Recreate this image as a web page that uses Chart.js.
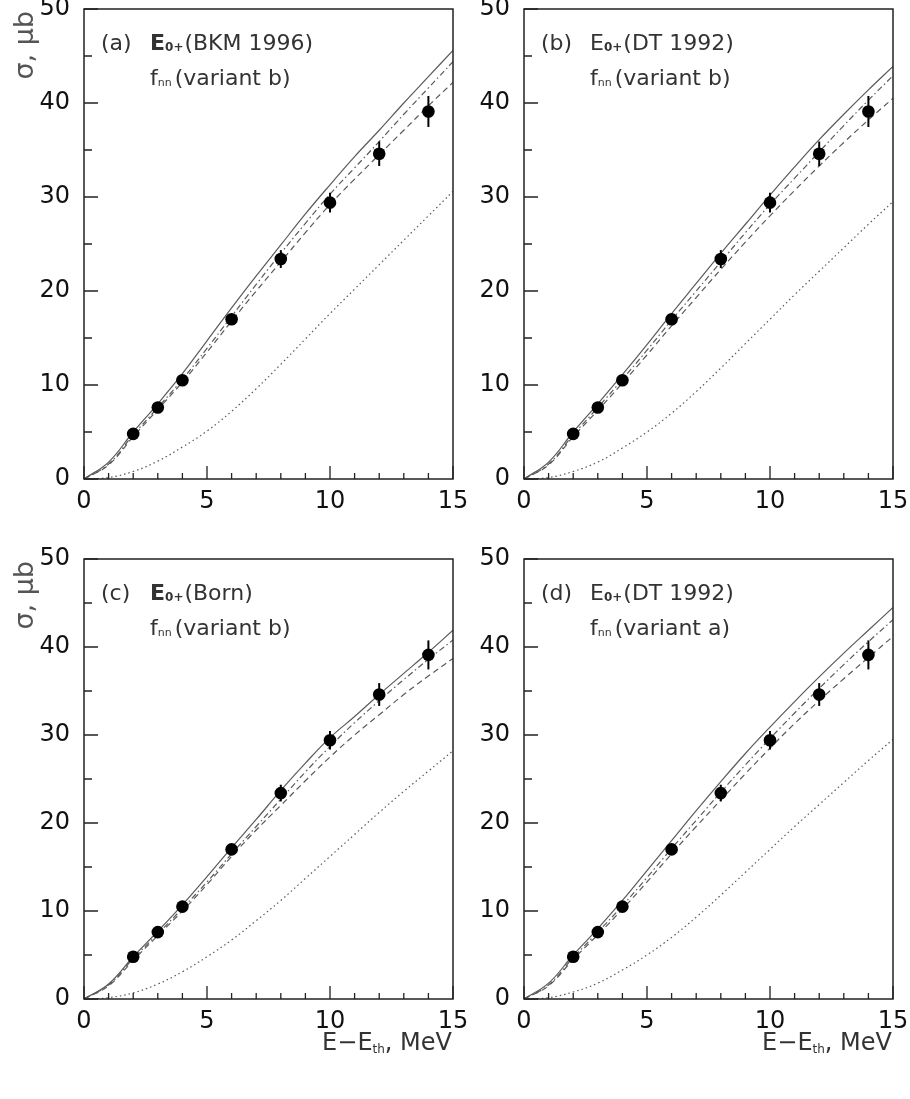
<!DOCTYPE html>
<html>
<head>
<meta charset="utf-8">
<script src="https://cdn.jsdelivr.net/npm/chart.js@4"></script>
<style>
  body { margin: 0; background: #fff; }
  #page { position: relative; width: 910px; height: 1099px; overflow: hidden; background: #fff; }
  #page canvas { position: absolute; }
</style>
</head>
<body>
<div id="page">
  <canvas id="panelA"></canvas>
  <canvas id="panelB"></canvas>
  <canvas id="panelC"></canvas>
  <canvas id="panelD"></canvas>
</div>
<script>
// energy grid of the calculated curves, MeV
const energy = [0, 1, 2, 3, 4, 5, 6, 7, 8, 9, 10, 11, 12, 13, 14, 15];

// measured cross sections, μb
const pointE = [2, 3, 4, 6, 8, 10, 12, 14];
const sigma = [4.8, 7.6, 10.5, 17.0, 23.4, 29.4, 34.6, 39.1];
const sigmaErr = [0.3, 0.3, 0.4, 0.6, 0.95, 1.05, 1.3, 1.65];

// (a) E0+ (BKM 1996), fnn variant b
const solidA   = [0, 1.8, 5.0, 8.0, 11.2, 14.7, 18.2, 21.6, 24.9, 28.2, 31.3, 34.3, 37.1, 40.0, 42.8, 45.6];
const dashDotA = [0, 1.6, 4.7, 7.6, 10.6, 13.9, 17.3, 20.7, 24.0, 27.2, 30.3, 33.1, 35.9, 38.8, 41.6, 44.4];
const dashA    = [0, 1.5, 4.5, 7.4, 10.3, 13.5, 16.8, 20.0, 23.1, 26.2, 29.2, 31.9, 34.5, 37.1, 39.7, 42.2];
const dotA     = [0, 0.15, 0.8, 1.9, 3.4, 5.1, 7.2, 9.6, 12.2, 14.9, 17.6, 20.2, 22.8, 25.4, 28.0, 30.6];

// (b) E0+ (DT 1992), fnn variant b
const solidB   = [0, 1.8, 5.0, 8.0, 11.1, 14.3, 17.6, 20.8, 24.0, 27.1, 30.2, 33.2, 36.1, 38.8, 41.4, 43.9];
const dashDotB = [0, 1.6, 4.7, 7.6, 10.6, 13.7, 16.9, 20.0, 23.1, 26.2, 29.2, 32.0, 34.8, 37.6, 40.3, 42.9];
const dashB    = [0, 1.5, 4.5, 7.3, 10.2, 13.2, 16.3, 19.3, 22.3, 25.2, 28.0, 30.7, 33.3, 35.8, 38.2, 40.5];
const dotB     = [0, 0.15, 0.8, 1.8, 3.3, 5.0, 7.0, 9.3, 11.8, 14.4, 17.0, 19.6, 22.1, 24.6, 27.1, 29.5];

// (c) E0+ (Born), fnn variant b
const solidC   = [0, 1.7, 4.8, 7.7, 10.7, 13.9, 17.2, 20.4, 23.7, 26.8, 29.7, 32.1, 34.6, 37.0, 39.4, 41.9];
const dashDotC = [0, 1.6, 4.6, 7.4, 10.3, 13.3, 16.5, 19.6, 22.7, 25.8, 28.7, 31.4, 33.9, 36.3, 38.6, 40.8];
const dashC    = [0, 1.5, 4.4, 7.2, 10.0, 13.0, 16.2, 19.2, 22.0, 24.8, 27.5, 30.0, 32.3, 34.6, 36.7, 38.7];
const dotC     = [0, 0.15, 0.7, 1.7, 3.1, 4.8, 6.7, 8.9, 11.2, 13.7, 16.2, 18.7, 21.2, 23.6, 25.9, 28.2];

// (d) E0+ (DT 1992), fnn variant a
const solidD   = [0, 1.8, 5.0, 8.0, 11.2, 14.6, 18.0, 21.4, 24.7, 27.9, 30.9, 33.8, 36.6, 39.3, 41.9, 44.5];
const dashDotD = [0, 1.6, 4.7, 7.6, 10.6, 13.8, 17.1, 20.3, 23.5, 26.6, 29.6, 32.5, 35.3, 38.0, 40.6, 43.1];
const dashD    = [0, 1.5, 4.5, 7.3, 10.2, 13.3, 16.5, 19.6, 22.6, 25.6, 28.5, 31.3, 33.9, 36.4, 38.8, 41.2];
const dotD     = [0, 0.15, 0.8, 1.8, 3.3, 5.0, 7.0, 9.3, 11.8, 14.4, 17.0, 19.6, 22.1, 24.6, 27.1, 29.5];

const xTicks = [0, 5, 10, 15];
const yTicks = [0, 10, 20, 30, 40, 50];

const FONT = "'DejaVu Sans', sans-serif";

function pts(xs, ys) {
  return xs.map((v, i) => ({ x: v, y: ys[i] }));
}

function curve(ys, dash) {
  return {
    type: 'line',
    data: pts(energy, ys),
    borderColor: '#5a5a5a',
    borderWidth: 1.2,
    borderDash: dash,
    pointRadius: 0,
    tension: 0.4,
    fill: false,
    order: 1
  };
}

// draws text pieces one after another, returns end x
function drawPieces(ctx, x, y, pieces) {
  pieces.forEach(p => {
    ctx.font = p.font;
    x += p.gap || 0;
    ctx.fillText(p.t, x, y + (p.dy || 0));
    x += ctx.measureText(p.t).width;
  });
  return x;
}

const panelDecor = {
  id: 'panelDecor',
  afterDatasetsDraw(chart, args, opts) {
    const { ctx, chartArea: a, scales: { x, y } } = chart;
    ctx.save();

    // error bars
    ctx.strokeStyle = '#000';
    ctx.lineWidth = 2;
    pointE.forEach((e, i) => {
      const px = x.getPixelForValue(e);
      ctx.beginPath();
      ctx.moveTo(px, y.getPixelForValue(sigma[i] - sigmaErr[i]));
      ctx.lineTo(px, y.getPixelForValue(sigma[i] + sigmaErr[i]));
      ctx.stroke();
    });

    // frame
    ctx.strokeStyle = '#222';
    ctx.lineWidth = 1.5;
    ctx.strokeRect(a.left, a.top, a.right - a.left, a.bottom - a.top);

    // inner tick marks
    ctx.lineWidth = 1.3;
    ctx.beginPath();
    for (let v = 0; v <= 15; v++) {
      const px = x.getPixelForValue(v);
      ctx.moveTo(px, a.bottom);
      ctx.lineTo(px, a.bottom - (v % 5 === 0 ? 13 : 6));
    }
    for (let v = 0; v <= 50; v += 5) {
      const py = y.getPixelForValue(v);
      ctx.moveTo(a.left, py);
      ctx.lineTo(a.left + (v % 10 === 0 ? 14 : 8), py);
    }
    ctx.stroke();

    // panel label
    ctx.fillStyle = '#333';
    ctx.textAlign = 'left';
    ctx.textBaseline = 'alphabetic';
    const reg = '22px ' + FONT;
    const big = (opts.boldE ? 'bold ' : '') + '22px ' + FONT;
    const sub = 'bold 12px ' + FONT;
    ctx.font = reg;
    ctx.fillText(opts.tag, a.left + 17, a.top + 41);
    drawPieces(ctx, a.left + 66, a.top + 41, [
      { t: 'E', font: big },
      { t: '0+', font: sub, dy: 1 },
      { t: opts.model, font: reg, gap: 1 }
    ]);
    drawPieces(ctx, a.left + 66, a.top + 76, [
      { t: 'f', font: reg },
      { t: 'nn', font: '11px ' + FONT, dy: 1 },
      { t: opts.variant, font: reg, gap: 3 }
    ]);

    // axis titles
    if (opts.xTitle) {
      const big2 = '24px ' + FONT;
      const sub2 = '12px ' + FONT;
      ctx.font = big2;
      let w = ctx.measureText('E\u2212E').width + ctx.measureText(', MeV').width;
      ctx.font = sub2;
      w += ctx.measureText('th').width;
      ctx.fillStyle = '#333';
      drawPieces(ctx, a.right - 1 - w, a.bottom + 51, [
        { t: 'E\u2212E', font: big2 },
        { t: 'th', font: sub2, dy: 3 },
        { t: ', MeV', font: big2 }
      ]);
    }
    if (opts.yTitle) {
      ctx.save();
      ctx.translate(a.left - 51, a.top + 2);
      ctx.rotate(-Math.PI / 2);
      ctx.fillStyle = '#555';
      ctx.font = '27px ' + FONT;
      ctx.textAlign = 'right';
      ctx.fillText('\u03c3, \u03bcb', 0, 0);
      ctx.restore();
    }
    ctx.restore();
  }
};

const panels = [
  { id: 'panelA', left: 0, top: -20, height: 560, plotH: 470, tag: '(a)', model: '(BKM 1996)', variant: '(variant b)', boldE: true,
    curves: [solidA, dashDotA, dashA, dotA], xTitle: false, yTitle: true },
  { id: 'panelB', left: 440, top: -20, height: 560, plotH: 470, tag: '(b)', model: '(DT 1992)', variant: '(variant b)', boldE: false,
    curves: [solidB, dashDotB, dashB, dotB], xTitle: false, yTitle: false },
  { id: 'panelC', left: 0, top: 530, height: 569, plotH: 440, tag: '(c)', model: '(Born)', variant: '(variant b)', boldE: true,
    curves: [solidC, dashDotC, dashC, dotC], xTitle: true, yTitle: true },
  { id: 'panelD', left: 440, top: 530, height: 569, plotH: 440, tag: '(d)', model: '(DT 1992)', variant: '(variant a)', boldE: false,
    curves: [solidD, dashDotD, dashD, dotD], xTitle: true, yTitle: false }
];

const dashes = [[], [6, 3, 1.5, 3], [6, 4], [1.5, 3]];

panels.forEach(p => {
  const canvas = document.getElementById(p.id);
  const width = 470;
  canvas.width = width;
  canvas.height = p.height;
  canvas.style.left = p.left + 'px';
  canvas.style.top = p.top + 'px';
  canvas.style.width = width + 'px';
  canvas.style.height = p.height + 'px';

  const datasets = [{
    type: 'scatter',
    data: pts(pointE, sigma),
    backgroundColor: '#000',
    borderColor: '#000',
    borderWidth: 0,
    pointRadius: 6.3,
    order: 0
  }];
  p.curves.forEach((c, i) => datasets.push(curve(c, dashes[i])));

  new Chart(canvas.getContext('2d'), {
    type: 'scatter',
    data: { datasets: datasets },
    options: {
      responsive: false,
      animation: false,
      devicePixelRatio: 1,
      layout: { padding: { left: 0, top: 29, right: 17, bottom: p.height - 29 - p.plotH - 40 } },
      plugins: {
        legend: { display: false },
        tooltip: { enabled: false },
        panelDecor: { tag: p.tag, model: p.model, variant: p.variant, boldE: p.boldE, xTitle: p.xTitle, yTitle: p.yTitle }
      },
      scales: {
        x: {
          type: 'linear',
          min: 0,
          max: 15,
          afterFit: s => { s.height = 40; },
          afterBuildTicks: s => { s.ticks = xTicks.map(v => ({ value: v })); },
          grid: { display: false },
          border: { display: false },
          ticks: { color: '#111', font: { family: FONT, size: 24 }, padding: 0, maxRotation: 0, autoSkip: false }
        },
        y: {
          type: 'linear',
          min: 0,
          max: 50,
          afterFit: s => { s.width = 84; },
          afterBuildTicks: s => { s.ticks = yTicks.map(v => ({ value: v })); },
          grid: { display: false },
          border: { display: false },
          ticks: { color: '#111', font: { family: FONT, size: 24 }, padding: 6, autoSkip: false }
        }
      }
    },
    plugins: [panelDecor]
  });
});
</script>
</body>
</html>
